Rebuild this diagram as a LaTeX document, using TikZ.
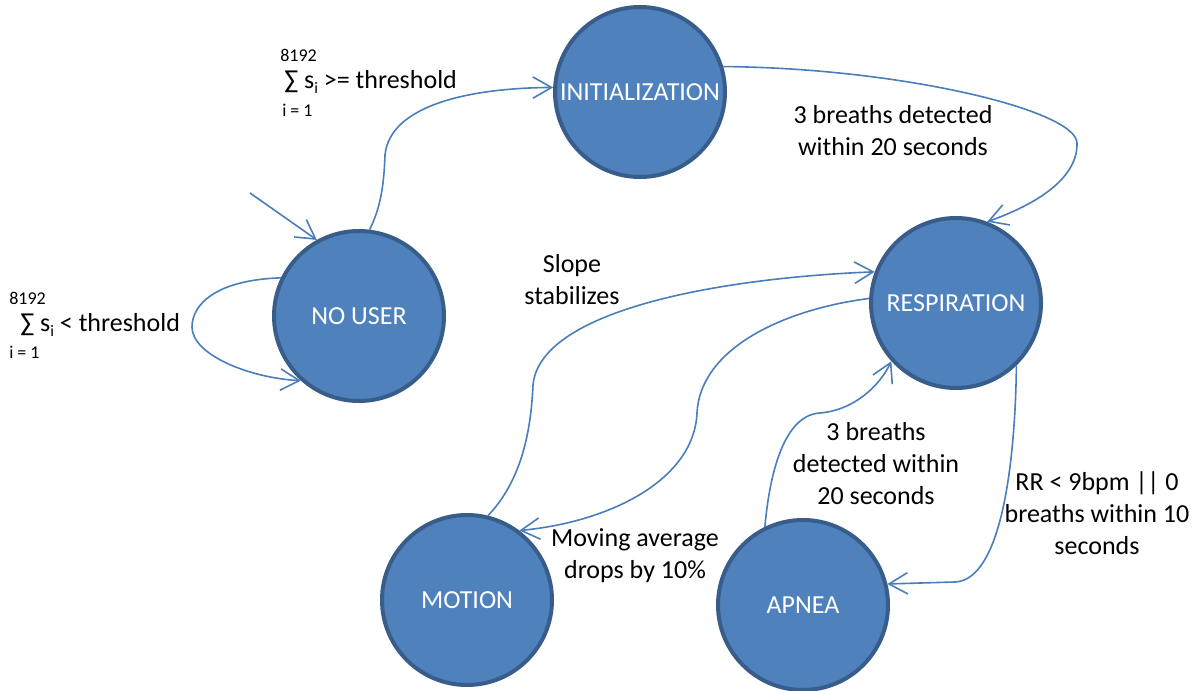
\documentclass[tikz,border=0pt]{standalone}
\usepackage{fontspec}
\setmainfont{Carlito}
\usetikzlibrary{arrows.meta}
\definecolor{stfill}{HTML}{4F81BD}
\definecolor{stborder}{HTML}{385D8A}
\definecolor{edgecol}{HTML}{4A7EBB}
\tikzset{
  statenode/.style={circle, fill=stfill, draw=stborder, line width=3pt, minimum size=127.5pt, inner sep=0pt, text=white, font=\fontsize{19.5pt}{24pt}\selectfont},
  conn/.style={draw=edgecol, line width=1.2pt, -{Straight Barb[length=14pt,width=16pt,line width=1.2pt]}},
  lbl/.style={font=\fontsize{19.5pt}{24pt}\selectfont, align=center, text=black, inner sep=0pt},
  smalltxt/.style={font=\fontsize{13.5pt}{15pt}\selectfont, text=black, inner sep=0pt}
}
\newcommand{\subi}{\raisebox{-0.4ex}{\fontsize{12pt}{12pt}\selectfont i}}
\begin{document}
\begin{tikzpicture}[x=0.75pt,y=-0.75pt]
\useasboundingbox (0,0) rectangle (1199,691);
% states
\node[statenode] (init) at (640,92) {INITIALIZATION};
\node[statenode] (nouser) at (359,316) {NO USER};
\node[statenode] (resp) at (956,303) {RESPIRATION};
\node[statenode] (motion) at (467,600) {MOTION};
\node[statenode] (apnea) at (803,605) {APNEA};
% initial arrow
\coordinate (start) at (250,193);
\draw[conn] (start) -- (nouser.119);
% self loop
\draw[conn] (nouser.154) .. controls (215,280) and (192,305) .. (192,327)
  .. controls (192,355) and (250,378) .. (nouser.228);
% no user -> init
\draw[conn] (nouser.83) .. controls (382,205) and (384,180) .. (385,155)
  .. controls (390,105) and (470,88) .. (init.177);
% init -> resp
\draw[conn] (init.17) .. controls (900,68) and (1076,110) .. (1077,143)
  .. controls (1078,185) and (1020,210) .. (resp.69);
% motion -> resp
\draw[conn] (motion.76) .. controls (522,480) and (531,430) .. (533,385)
  .. controls (540,310) and (720,278) .. (resp.159);
% resp -> motion
\draw[conn] (resp.177) .. controls (780,310) and (700,350) .. (697,413)
  .. controls (694,480) and (610,522) .. (motion.53);
% apnea -> resp
\draw[conn] (apnea.116) .. controls (770,470) and (785,415) .. (820,413)
  .. controls (855,410) and (880,385) .. (resp.222);
% resp -> apnea
\draw[conn] (resp.314) .. controls (1015,470) and (1000,580) .. (955,582)
  -- (apnea.14);
% labels
\node[smalltxt, anchor=west] (s1top) at (280,55) {8192};
\node[lbl, anchor=west] (s1) at (284,82) {∑ s\subi\ >= threshold};
\node[smalltxt, anchor=west] (s1bot) at (282,110) {i = 1};
\node[smalltxt, anchor=west] (s2top) at (9,298) {8192};
\node[lbl, anchor=west] (s2) at (20,325) {∑ s\subi\ < threshold};
\node[smalltxt, anchor=west] (s2bot) at (9,352) {i = 1};
\node[lbl] (l1) at (893,131) {3 breaths detected\\within 20 seconds};
\node[lbl] (l2) at (572,280) {Slope\\stabilizes};
\node[lbl] (l3) at (635,556) {Moving average\\drops by 10\%};
\node[lbl] (l4) at (876,464) {3 breaths\\detected within\\20 seconds};
\node[lbl] (l5) at (1097,513) {RR < 9bpm || 0\\breaths within 10\\seconds};
\end{tikzpicture}
\end{document}
